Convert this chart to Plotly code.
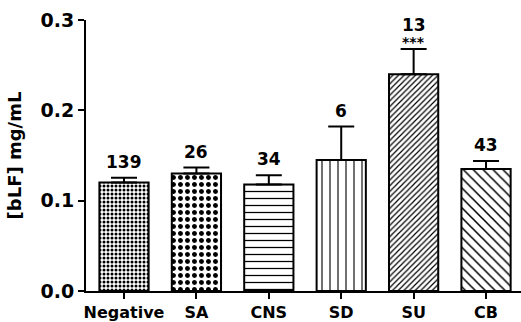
import plotly.graph_objects as go

categories = ["Negative", "SA", "CNS", "SD", "SU", "CB"]
means = [0.120, 0.130, 0.118, 0.145, 0.240, 0.135]
errors = [0.0055, 0.0066, 0.010, 0.037, 0.028, 0.009]
counts = ["139", "26", "34", "6", "13", "43"]
significance = ["", "", "", "", "***", ""]
y_ticks = [0.0, 0.1, 0.2, 0.3]

pattern_shapes = [".", ".", "-", "|", "/", "\\"]
pattern_sizes = [4, 7, 7, 8, 4, 7]
pattern_solid = [0.45, 0.4, 0.18, 0.14, 0.3, 0.22]

FONT = "DejaVu Sans"

fig = go.Figure()
fig.add_trace(go.Bar(
    x=list(range(len(categories))),
    y=means,
    width=0.68,
    marker=dict(
        color="white",
        line=dict(color="black", width=2),
        pattern=dict(shape=pattern_shapes, size=pattern_sizes,
                     solidity=pattern_solid, fgcolor="black",
                     bgcolor="white", fillmode="replace"),
    ),
    error_y=dict(type="data", array=errors, symmetric=False, arrayminus=[0]*6,
                 color="black", thickness=2, width=13),
    cliponaxis=False,
    showlegend=False,
    hoverinfo="skip",
))

for i, (m, e, c, s) in enumerate(zip(means, errors, counts, significance)):
    top = m + e
    if s:
        fig.add_annotation(x=i, y=top, text=s, showarrow=False, yanchor="bottom",
                           yshift=-3, font=dict(family=FONT, size=14, color="black", weight="bold"))
        fig.add_annotation(x=i, y=top, text=c, showarrow=False, yanchor="bottom",
                           yshift=12, font=dict(family=FONT, size=17, color="black", weight="bold"))
    else:
        fig.add_annotation(x=i, y=top, text=c, showarrow=False, yanchor="bottom",
                           yshift=4, font=dict(family=FONT, size=17, color="black", weight="bold"))

fig.update_layout(
    width=521, height=322,
    margin=dict(l=86, r=0, t=20, b=31),
    paper_bgcolor="white", plot_bgcolor="white",
    font=dict(family=FONT, color="black"),
)
fig.update_xaxes(
    range=[-0.525, 5.483],
    tickmode="array", tickvals=list(range(len(categories))), ticktext=categories,
    showline=True, linecolor="black", linewidth=2,
    ticks="outside", ticklen=6, tickwidth=2, tickcolor="black",
    tickfont=dict(family=FONT, size=16, color="black", weight="bold"),
    showgrid=False, zeroline=False,
)
fig.update_yaxes(
    range=[0, 0.3],
    tickmode="array", tickvals=y_ticks, ticktext=[f"{v:.1f}" for v in y_ticks],
    showline=True, linecolor="black", linewidth=2,
    ticks="outside", ticklen=6, tickwidth=2, tickcolor="black",
    tickfont=dict(family=FONT, size=19, color="black", weight="bold"),
    title=dict(text="[bLF] mg/mL", standoff=14,
               font=dict(family=FONT, size=18, color="black", weight="bold")),
    showgrid=False, zeroline=False,
)

fig.write_html("out.html", config={"displayModeBar": False},
               post_script="document.body.style.margin='0';document.body.style.overflow='hidden';")
